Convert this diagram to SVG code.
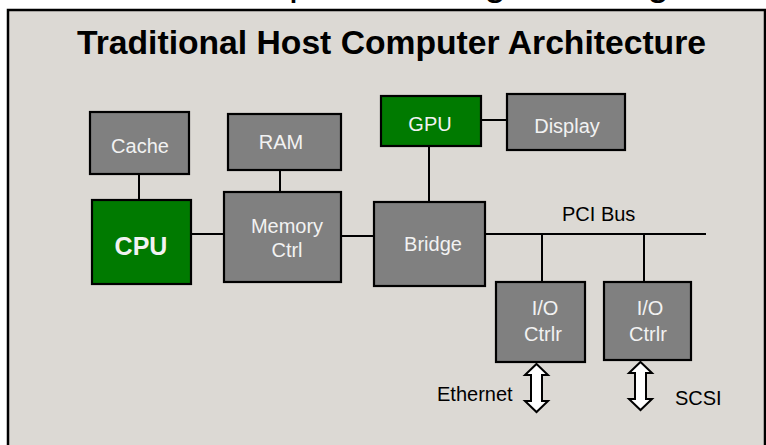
<svg xmlns="http://www.w3.org/2000/svg" width="766" height="445" viewBox="0 0 766 445">
<style>
.box{fill:#808080;stroke:#000;stroke-width:2.2}
.green{fill:#007a00;stroke:#000;stroke-width:2.2}
.lbl{font-family:"Liberation Sans",Arial,sans-serif;font-size:20px;fill:#f2f2f2;text-anchor:middle}
.blk{font-family:"Liberation Sans",Arial,sans-serif;font-size:20px;fill:#000}
.wire{stroke:#000;stroke-width:2;fill:none}
.arrow{fill:#fff;stroke:#000;stroke-width:2;stroke-linejoin:miter}
</style>
<rect width="766" height="445" fill="#fff"/>
<g id="top-fragments" font-family="'Liberation Sans',Arial,sans-serif" font-size="40" fill="#000">
<text x="289" y="-5.5">p</text>
<text x="484" y="-5.5">g</text>
<text x="647" y="-5.5">g</text>
</g>
<rect id="panel" x="8" y="10" width="757" height="450" fill="#dcd9d4" stroke="#000" stroke-width="2.5"/>
<text id="title" x="77" y="54" font-family="'Liberation Sans',Arial,sans-serif" font-size="33.5" font-weight="bold" fill="#000" textLength="629" lengthAdjust="spacingAndGlyphs">Traditional Host Computer Architecture</text>
<g id="connectors">
<line class="wire" x1="139" y1="174" x2="139" y2="200"/>
<line class="wire" x1="280" y1="170" x2="280" y2="192"/>
<line class="wire" x1="191" y1="234" x2="224" y2="234"/>
<line class="wire" x1="341" y1="236" x2="374" y2="236"/>
<line class="wire" x1="481" y1="120" x2="507" y2="120"/>
<line class="wire" x1="429" y1="146" x2="429" y2="202"/>
<line id="pci-bus" class="wire" x1="485" y1="234" x2="706" y2="234"/>
<line class="wire" x1="542" y1="234" x2="542" y2="282"/>
<line class="wire" x1="644" y1="234" x2="644" y2="282"/>
<path id="ethernet-arrow" class="arrow" d="M536.5,364 L548,375 L542,375 L542,401 L548,401 L536.5,412 L525,401 L531,401 L531,375 L525,375 Z"/>
<path id="scsi-arrow" class="arrow" d="M640.5,362 L652,373 L646,373 L646,399 L652,399 L640.5,410 L629,399 L635,399 L635,373 L629,373 Z"/>
<text class="blk" x="562" y="221">PCI Bus</text>
<text class="blk" x="437" y="401">Ethernet</text>
<text class="blk" x="675" y="405">SCSI</text>
</g>
<g id="cache"><rect class="box" x="90" y="112" width="99" height="62"/><text class="lbl" x="140" y="153">Cache</text></g>
<g id="ram"><rect class="box" x="228" y="114" width="113" height="56"/><text class="lbl" x="281" y="149">RAM</text></g>
<g id="cpu"><rect class="green" x="92" y="200" width="99" height="84"/><text class="lbl" x="141" y="255" font-size="25" font-weight="bold" style="font-size:25px;font-weight:bold">CPU</text></g>
<g id="memory-ctrl"><rect class="box" x="224" y="192" width="117" height="90"/><text class="lbl" x="287" y="233">Memory</text><text class="lbl" x="287" y="257">Ctrl</text></g>
<g id="gpu"><rect class="green" x="381" y="96" width="100" height="50"/><text class="lbl" x="430" y="131">GPU</text></g>
<g id="display"><rect class="box" x="507" y="94" width="118" height="56"/><text class="lbl" x="567" y="133">Display</text></g>
<g id="bridge"><rect class="box" x="374" y="202" width="111" height="84"/><text class="lbl" x="433" y="251">Bridge</text></g>
<g id="io-ctrlr-1"><rect class="box" x="496" y="282" width="89" height="80"/><text class="lbl" x="545" y="315">I/O</text><text class="lbl" x="543" y="341">Ctrlr</text></g>
<g id="io-ctrlr-2"><rect class="box" x="604" y="282" width="87" height="78"/><text class="lbl" x="650" y="315">I/O</text><text class="lbl" x="648" y="341">Ctrlr</text></g>
</svg>
